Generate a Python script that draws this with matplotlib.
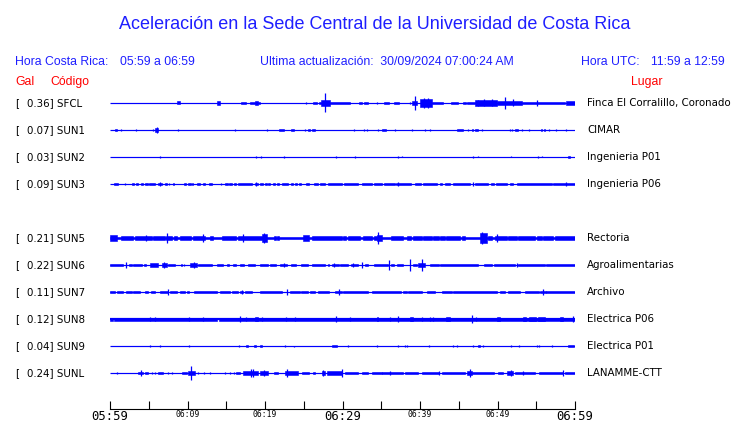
import matplotlib
matplotlib.use("Agg")
import matplotlib.pyplot as plt

# ---------------- data ----------------
codes = ["SFCL", "SUN1", "SUN2", "SUN3", "SUN5", "SUN6", "SUN7", "SUN8", "SUN9", "SUNL"]
gal = [0.36, 0.07, 0.03, 0.09, 0.21, 0.22, 0.11, 0.12, 0.04, 0.24]
places = ["Finca El Corralillo, Coronado", "CIMAR", "Ingenieria P01", "Ingenieria P06",
          "Rectoria", "Agroalimentarias", "Archivo", "Electrica P06", "Electrica P01", "LANAMME-CTT"]
slots = [0, 1, 2, 3, 5, 6, 7, 8, 9, 10]
base_amp = [0.6, 0.6, 0.6, 0.6, 1.3, 0.6, 0.6, 1.1, 0.6, 0.6]

tick_minutes = list(range(0, 61, 5))
tick_labels = ["05:59", "", "06:09", "", "06:19", "", "06:29", "", "06:39", "", "06:49", "", "06:59"]
major_labels = ["05:59", "06:29", "06:59"]

# bursts: (start minute, end minute, half amplitude), spikes: (minute, half amplitude)
SFCL_BLOCKS = [(8.7, 9.0, 1.5), (13.8, 14.2, 2.3), (16.9, 17.5, 1.3), (18.1, 18.7, 1.3), (18.7, 19.1, 2.3),
               (19.1, 19.4, 1.3), (26.2, 26.7, 1.3), (27.0, 27.2, 1.3), (27.2, 28.4, 2.7), (28.4, 31.0, 1.3),
               (32.1, 32.5, 1.0), (32.8, 33.3, 1.3), (35.3, 36.0, 1.3), (36.7, 37.3, 1.3), (39.0, 39.6, 2.0),
               (40.0, 41.5, 4.0), (41.5, 43.0, 1.3), (44.0, 44.9, 1.3), (45.6, 45.9, 1.3), (46.0, 47.1, 1.3),
               (47.1, 49.9, 2.7), (49.9, 53.1, 2.3), (53.1, 58.7, 1.3), (58.9, 60.0, 1.7)]
SFCL_SPIKES = [(25.3, 1.0), (27.7, 9.5), (34.5, 1.3), (38.7, 1.3), (39.3, 7.0), (40.5, 5.0), (41.0, 5.0),
               (47.5, 3.3), (48.3, 3.5), (49.3, 3.5), (51.0, 6.0), (52.0, 3.5), (55.1, 3.0)]

SUN1_BLOCKS = [(0.65, 0.9, 1.3), (5.8, 6.25, 2.0), (21.8, 22.5, 1.3), (23.4, 23.7, 1.3), (25.5, 25.8, 1.3),
               (26.0, 26.4, 1.0), (35.1, 35.6, 1.3), (44.8, 45.5, 1.3), (46.7, 46.9, 1.0), (47.1, 47.5, 1.3),
               (52.3, 52.7, 1.3), (55.6, 55.8, 1.0), (56.0, 56.1, 1.0)]
SUN1_SPIKES = [(1.42, 1.3), (3.31, 1.3), (5.5, 1.3), (6.0, 2.7), (8.8, 1.3), (16.1, 1.3), (20.3, 0.7),
               (25.1, 1.3), (31.5, 1.3), (32.8, 1.3), (33.2, 1.3), (34.6, 1.3), (36.8, 1.3), (39.0, 1.3),
               (40.6, 1.3), (41.3, 0.7), (46.2, 1.3), (48.0, 0.7), (51.6, 1.3), (51.9, 1.3), (53.1, 1.3),
               (54.0, 1.3), (56.6, 1.3), (57.6, 1.3), (58.9, 1.3)]

SUN2_BLOCKS = [(59.05, 59.4, 1.0)]
SUN2_SPIKES = [(6.45, 0.7), (18.9, 1.0), (19.5, 1.0), (22.5, 1.0), (29.2, 1.0), (31.6, 1.0), (37.2, 1.0),
               (37.7, 0.5), (46.8, 1.3), (47.5, 0.5), (51.7, 0.5), (55.2, 1.0), (55.8, 0.5)]

SUN3_BLOCKS = [(0.56, 1.08, 1.3), (2.8, 3.1, 1.3), (3.3, 3.6, 1.3), (4.0, 4.3, 1.3), (4.5, 4.9, 1.3),
               (5.0, 5.8, 1.3), (6.2, 6.75, 1.3), (7.1, 7.35, 1.3), (8.1, 8.25, 1.3), (9.5, 9.8, 1.3),
               (10.0, 10.45, 1.3), (10.6, 10.75, 1.3), (11.2, 11.6, 1.3), (12.0, 12.25, 1.3), (12.8, 13.1, 1.3),
               (14.8, 15.2, 1.3), (15.4, 15.7, 1.3), (15.95, 16.2, 1.3), (16.55, 18.3, 1.3), (18.7, 19.1, 1.3),
               (19.35, 19.8, 1.3), (20.0, 20.2, 1.3), (20.4, 20.6, 1.3), (21.0, 21.3, 1.3), (21.5, 21.8, 1.3),
               (22.15, 23.0, 1.3), (23.4, 23.65, 1.3), (23.9, 24.1, 1.3), (24.4, 24.65, 1.3), (25.3, 25.7, 1.3),
               (26.3, 26.9, 1.3), (27.1, 27.7, 1.3), (28.1, 29.9, 1.3), (30.2, 32.0, 1.3), (32.5, 33.8, 1.3),
               (34.1, 35.05, 1.3), (35.3, 36.8, 1.3), (36.95, 38.9, 1.3), (39.35, 40.1, 1.3), (40.4, 42.15, 1.3),
               (42.6, 42.9, 1.3), (43.2, 43.9, 1.3), (44.2, 46.45, 1.3), (47.1, 48.8, 1.3), (49.2, 49.5, 1.3),
               (49.75, 51.2, 1.3), (51.6, 52.0, 1.3), (52.5, 57.0, 1.3), (57.2, 60.0, 1.3)]
SUN3_SPIKES = [(1.94, 1.0), (6.45, 2.3), (7.65, 1.0), (14.3, 1.0), (18.8, 2.0), (37.2, 2.0), (46.9, 1.7),
               (58.9, 1.7)]

SUN5_BLOCKS = [(0.0, 0.86, 2.7), (1.42, 3.0, 2.3), (3.2, 5.4, 2.3), (5.6, 7.1, 2.3), (7.2, 7.95, 2.3),
               (8.2, 8.6, 2.3), (9.0, 10.5, 2.3), (10.75, 12.25, 2.3), (12.9, 13.3, 2.3), (14.4, 16.3, 2.3),
               (16.55, 19.6, 2.3), (19.6, 20.2, 3.7), (21.2, 21.4, 2.0), (21.6, 21.8, 2.0), (24.9, 25.7, 2.7),
               (26.0, 29.9, 2.3), (30.1, 30.5, 2.3), (30.75, 32.25, 2.3), (32.7, 33.8, 2.3), (34.0, 34.4, 2.3),
               (34.4, 35.05, 3.0), (36.3, 37.85, 2.3), (38.3, 38.9, 2.3), (39.1, 40.2, 2.3), (40.4, 41.5, 2.3),
               (41.7, 42.4, 2.3), (42.6, 43.2, 2.3), (43.4, 45.2, 2.3), (45.4, 45.8, 2.3), (47.7, 48.6, 4.7),
               (48.8, 49.25, 2.3), (49.7, 51.2, 2.3), (51.4, 52.5, 2.3), (52.7, 54.8, 2.3), (55.05, 55.7, 2.3),
               (55.9, 57.2, 2.3), (57.4, 60.0, 2.3)]
SUN5_SPIKES = [(4.7, 3.3), (7.3, 5.3), (12.0, 4.3), (17.2, 4.3), (19.9, 4.7), (34.6, 6.0), (48.0, 6.0),
               (49.9, 4.0)]

SUN6_BLOCKS = [(0.0, 1.7, 1.3), (2.4, 2.8, 1.3), (3.0, 4.1, 1.3), (4.4, 4.7, 1.3), (5.1, 6.2, 1.7),
               (6.7, 7.3, 2.0), (7.5, 8.4, 1.3), (9.2, 9.3, 1.3), (10.3, 11.2, 2.0), (11.4, 13.1, 1.3),
               (13.8, 14.6, 1.3), (15.05, 15.35, 1.3), (15.9, 16.3, 1.3), (16.8, 17.3, 1.3), (17.85, 18.7, 1.3),
               (19.35, 20.4, 1.3), (20.6, 21.4, 1.3), (21.9, 22.8, 1.3), (23.4, 24.0, 1.3), (24.7, 25.5, 1.3),
               (26.1, 27.7, 1.3), (28.1, 28.3, 1.3), (28.6, 29.5, 1.3), (29.7, 30.75, 1.3), (31.1, 32.0, 1.3),
               (32.9, 33.3, 1.3), (34.0, 35.9, 1.3), (36.3, 36.7, 1.3), (37.0, 37.85, 1.3), (39.1, 39.6, 1.3),
               (39.8, 40.6, 1.7), (41.3, 42.4, 1.3), (42.6, 47.5, 1.3), (48.2, 49.25, 1.3), (49.5, 52.3, 1.3),
               (52.7, 56.1, 1.3), (56.3, 60.0, 1.3)]
SUN6_SPIKES = [(2.0, 2.7), (7.0, 3.3), (9.6, 1.3), (10.9, 3.3), (22.5, 2.3), (28.9, 2.3), (31.4, 2.0),
               (32.5, 3.3), (36.0, 4.7), (38.7, 5.7), (40.2, 6.0), (52.5, 2.3)]

SUN7_BLOCKS = [(0.0, 0.65, 0.8), (0.86, 1.7, 1.2), (2.0, 2.8, 1.2), (3.0, 3.9, 1.2), (4.5, 4.9, 1.2),
               (5.3, 5.8, 1.2), (6.45, 7.5, 1.2), (7.7, 8.6, 1.2), (9.0, 9.7, 1.2), (9.9, 10.2, 1.2),
               (10.9, 13.8, 1.2), (14.2, 15.5, 1.2), (15.7, 16.55, 1.2), (16.8, 17.2, 1.2), (17.4, 18.3, 1.2),
               (19.35, 22.15, 1.2), (23.2, 24.5, 1.2), (24.7, 25.6, 1.2), (25.8, 26.45, 1.2), (26.9, 28.2, 1.2),
               (29.0, 29.9, 1.2), (30.1, 33.3, 1.2), (33.8, 37.6, 1.2), (37.85, 38.3, 1.2), (38.5, 40.2, 1.2),
               (40.9, 41.9, 1.2), (42.8, 44.1, 1.2), (44.3, 49.9, 1.2), (50.3, 51.0, 1.2), (51.4, 52.9, 1.2),
               (53.5, 55.3, 1.2), (55.5, 56.3, 1.2), (56.3, 60.0, 1.2)]
SUN7_SPIKES = [(7.45, 3.3), (17.0, 2.0), (22.8, 2.7), (29.5, 3.3), (55.9, 3.0)]

SUN8_BLOCKS = [(0.0, 0.45, 1.5), (0.55, 13.8, 1.5), (14.0, 60.0, 1.5), (18.7, 19.05, 2.3), (34.4, 34.6, 2.3),
               (38.7, 39.1, 2.3), (43.4, 43.9, 2.3), (49.9, 50.3, 2.0), (53.3, 53.7, 2.3), (54.1, 55.0, 2.3),
               (55.2, 56.1, 2.3), (58.05, 58.5, 2.3)]
SUN8_SPIKES = [(5.2, 2.0), (5.8, 1.7), (10.2, 2.0), (12.0, 1.7), (16.8, 3.0), (17.5, 1.7), (19.6, 2.3),
               (22.7, 2.0), (23.9, 2.3), (29.2, 3.0), (31.0, 1.7), (36.1, 1.7), (37.2, 3.0), (40.2, 1.7),
               (41.3, 1.7), (41.7, 1.7), (46.7, 4.0), (47.2, 2.0), (59.8, 3.0)]

SUN9_BLOCKS = [(17.6, 17.75, 1.3), (18.6, 18.9, 1.3), (19.35, 19.65, 1.3), (28.7, 29.3, 1.3),
               (47.5, 47.7, 1.3), (59.05, 59.9, 1.3)]
SUN9_SPIKES = [(5.2, 1.3), (6.45, 1.3), (10.2, 0.8), (16.7, 1.3), (22.6, 1.3), (23.8, 0.5), (30.75, 1.3),
               (34.4, 1.3), (37.2, 1.3), (38.0, 0.7), (38.3, 0.7), (41.2, 1.3), (44.2, 1.3), (44.8, 0.7),
               (46.9, 1.3), (48.1, 0.7), (51.7, 0.7), (52.8, 1.3), (55.05, 1.3), (55.3, 0.7), (57.0, 0.7)]

SUNL_BLOCKS = [(3.65, 4.3, 1.3), (4.5, 4.95, 1.3), (6.2, 6.9, 1.3), (9.25, 9.9, 1.3), (10.1, 10.95, 1.7),
               (16.3, 16.8, 1.3), (17.2, 19.15, 1.7), (19.35, 20.4, 2.0), (21.1, 21.7, 1.3), (22.6, 24.3, 1.7),
               (24.8, 25.7, 1.3), (26.2, 26.5, 1.0), (27.3, 27.7, 1.7), (27.95, 29.9, 1.7), (30.3, 32.0, 1.3),
               (32.5, 33.3, 1.3), (33.8, 35.05, 1.3), (35.05, 37.85, 1.3), (38.1, 39.8, 1.3), (40.2, 42.4, 1.3),
               (42.8, 45.8, 1.3), (46.0, 46.7, 2.0), (46.7, 49.5, 1.3), (50.1, 50.75, 1.3), (51.2, 52.0, 1.7),
               (52.3, 54.8, 1.3), (55.3, 58.5, 1.3), (58.7, 60.0, 1.3)]
SUNL_SPIKES = [(0.86, 0.7), (3.95, 3.0), (5.4, 1.0), (5.8, 1.0), (7.5, 1.0), (7.95, 1.0), (10.45, 7.3),
               (11.3, 1.3), (12.1, 1.3), (12.9, 1.3), (14.8, 0.7), (15.5, 0.7), (16.0, 0.7), (18.15, 4.3),
               (18.5, 4.0), (19.9, 3.0), (22.9, 3.7), (27.5, 3.0), (29.9, 4.0), (36.1, 2.0), (42.4, 2.3),
               (46.45, 4.0), (51.7, 2.7), (53.3, 2.3), (58.5, 2.7)]

blocks = [SFCL_BLOCKS, SUN1_BLOCKS, SUN2_BLOCKS, SUN3_BLOCKS, SUN5_BLOCKS,
          SUN6_BLOCKS, SUN7_BLOCKS, SUN8_BLOCKS, SUN9_BLOCKS, SUNL_BLOCKS]
spikes = [SFCL_SPIKES, SUN1_SPIKES, SUN2_SPIKES, SUN3_SPIKES, SUN5_SPIKES,
          SUN6_SPIKES, SUN7_SPIKES, SUN8_SPIKES, SUN9_SPIKES, SUNL_SPIKES]

# ---------------- figure ----------------
W, H = 740, 423
fig = plt.figure(figsize=(W / 100, H / 100), dpi=100, facecolor="white")

BLUE_TXT = "#1e1eff"
TRACE = "#0000ff"
SLOT = 27.0

# background axes in pixel coordinates for the text
bg = fig.add_axes([0, 0, 1, 1])
bg.set_xlim(0, W)
bg.set_ylim(H, 0)
bg.axis("off")

hdr = dict(family="Liberation Sans", fontsize=8.8)
bg.text(374.5, 29.3, "Aceleración en la Sede Central de la Universidad de Costa Rica",
        family="Liberation Sans", fontsize=13, color=BLUE_TXT, ha="center", va="baseline")
bg.text(15, 65, "Hora Costa Rica:", color=BLUE_TXT, va="baseline", **hdr)
bg.text(120, 65, "05:59 a 06:59", color=BLUE_TXT, va="baseline", **hdr)
bg.text(260, 65, "Ultima actualización:  30/09/2024 07:00:24 AM", color=BLUE_TXT, va="baseline", **hdr)
bg.text(581, 65, "Hora UTC:", color=BLUE_TXT, va="baseline", **hdr)
bg.text(651, 65, "11:59 a 12:59", color=BLUE_TXT, va="baseline", **hdr)
bg.text(15, 85, "Gal", color="red", va="baseline", **hdr)
bg.text(50, 85, "Código", color="red", va="baseline", **hdr)
bg.text(631, 85, "Lugar", color="red", va="baseline", **hdr)

# trace axes: x from 110 to 575 px, y from 85 to 409 px
x0, x1, y0, y1 = 110, 575, 85, 409
ax = fig.add_axes([x0 / W, 1 - y1 / H, (x1 - x0) / W, (y1 - y0) / H])
ax.set_xlim(0, 60)
top = -(103 - y0)
ax.set_ylim(top + (y1 - y0), top)
ax.patch.set_alpha(0)
for s in ["top", "left", "right"]:
    ax.spines[s].set_visible(False)
ax.spines["bottom"].set_linewidth(0.8)
ax.set_yticks([])
ax.set_xticks(tick_minutes)
ax.set_xticklabels(tick_labels, family="DejaVu Sans Mono")
for lab in ax.get_xticklabels():
    lab.set_fontsize(8.8 if lab.get_text() in major_labels else 5.8)
ax.tick_params(axis="x", direction="in", length=5.8, width=0.8, pad=1.0, colors="black")

for i, code in enumerate(codes):
    off = slots[i] * SLOT
    ax.hlines(off, 0, 60, color=TRACE, lw=2 * base_amp[i] * 0.72)
    for (t0, t1, a) in blocks[i]:
        ax.bar(t0, 2 * a, width=t1 - t0, bottom=off - a, align="edge", color=TRACE,
               edgecolor=TRACE, linewidth=0.4)
    for (t, a) in spikes[i]:
        ax.vlines(t, off - a, off + a, color=TRACE, lw=0.9)
    ypix = 103 + slots[i] * SLOT
    bg.text(15, ypix, "[", family="DejaVu Sans", fontsize=7.4, va="center", color="black")
    bg.text(27, ypix, f"{gal[i]:.2f}] {code}", family="DejaVu Sans", fontsize=7.4, va="center", color="black")
    bg.text(587, ypix, places[i], family="DejaVu Sans", fontsize=7.4, va="center", color="black")

fig.savefig("out.png", dpi=100, facecolor="white")
